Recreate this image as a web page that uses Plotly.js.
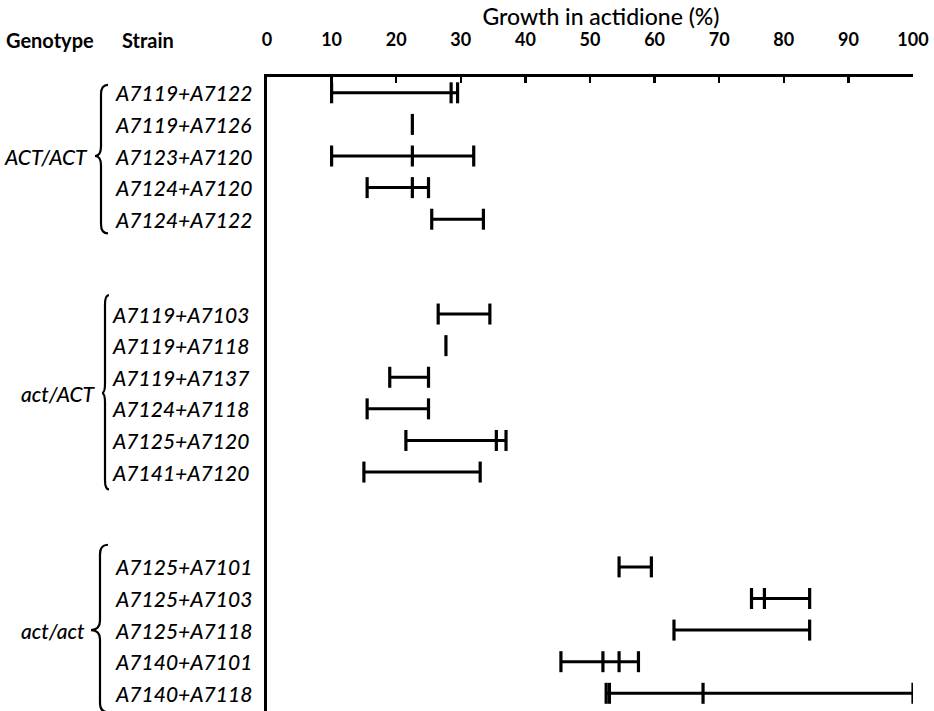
<!DOCTYPE html>
<html>
<head>
<meta charset="utf-8">
<script src="https://cdn.plot.ly/plotly-3.0.1.min.js"></script>
<style>html,body{margin:0;padding:0;background:#fff;}#chart{width:934px;height:711px;}</style>
</head>
<body>
<div id="chart"></div>
<script>
// ---- data ----
const genotypes = ['ACT/ACT', 'act/ACT', 'act/act'];
const groupSizes = [5, 6, 5];
const strains = [
  'A7119+A7122', 'A7119+A7126', 'A7123+A7120', 'A7124+A7120', 'A7124+A7122',
  'A7119+A7103', 'A7119+A7118', 'A7119+A7137', 'A7124+A7118', 'A7125+A7120', 'A7141+A7120',
  'A7125+A7101', 'A7125+A7103', 'A7125+A7118', 'A7140+A7101', 'A7140+A7118'
];
const readings = [
  [10, 28.5, 29.5], [22.5], [10, 22.5, 32], [15.5, 22.5, 25], [25.5, 33.5],
  [26.5, 34.5], [27.7], [19, 25], [15.5, 25], [21.5, 35.5, 37], [15, 33],
  [54.5, 59.5], [75, 77, 84], [63, 84], [45.5, 52, 54.5, 57.5], [52.5, 53, 67.5, 100]
];
const xTicks = [0, 10, 20, 30, 40, 50, 60, 70, 80, 90, 100];
const xTitle = 'Growth in actidione (%)';
const headers = ['Genotype', 'Strain'];

// ---- layout geometry ----
const W = 934, H = 711;
const M = {l: 267, r: 21, t: 77, b: 0};
const PW = W - M.l - M.r, PH = H - M.t - M.b;
const px = v => (v - M.l) / PW;           // pixel x -> paper x
const py = v => (H - M.b - v) / PH;       // pixel y -> paper y
const GAP = 2;
// per-group label/brace placement (pixels)
const grpStyle = [
  {labelRight: 90, tip: 95, spine: 101, arm: 108, text: 113, topPad: 0.25, botPad: 0.45},
  {labelRight: 98, tip: 102, spine: 105, arm: 109, text: 110, topPad: 0.6, botPad: 0.55},
  {labelRight: 87, tip: 91, spine: 100, arm: 108, text: 113, topPad: 0.7, botPad: 0.6}
];

// row positions from group structure
const pos = [];
const rowGroup = [];
const groupSpan = [];
let cur = 0;
groupSizes.forEach((n, g) => {
  const first = cur;
  for (let i = 0; i < n; i++) { pos.push(cur++); rowGroup.push(g); }
  groupSpan.push([first, cur - 1]);
  cur += GAP;
});

const FONT = 'Lato, "Open Sans", "DejaVu Sans", sans-serif';
const traces = [];
strains.forEach((s, i) => {
  const vals = readings[i];
  const lo = Math.min(...vals), hi = Math.max(...vals);
  if (hi > lo) {
    traces.push({
      type: 'scatter', mode: 'lines', x: [lo, hi], y: [pos[i], pos[i]],
      line: {color: '#000', width: 3}, hoverinfo: 'skip', showlegend: false
    });
  }
  traces.push({
    type: 'scatter', mode: 'markers', x: vals, y: vals.map(() => pos[i]),
    marker: {symbol: 'line-ns', size: 15, color: '#000', line: {color: '#000', width: 3.2}},
    name: s, showlegend: false
  });
});

const annotations = [];
strains.forEach((s, i) => {
  annotations.push({
    xref: 'paper', yref: 'y', x: px(grpStyle[rowGroup[i]].text), y: pos[i], xanchor: 'left', yanchor: 'middle',
    text: '<i>' + s + '</i>', showarrow: false,
    font: {family: FONT, size: 21, color: '#000', weight: 500}
  });
});
const shapes = [];
genotypes.forEach((gname, g) => {
  const st = grpStyle[g];
  const [a, b] = groupSpan[g];
  const mid = (a + b) / 2;
  annotations.push({
    xref: 'paper', yref: 'y', x: px(st.labelRight), y: mid, xanchor: 'right', yanchor: 'middle',
    text: '<i>' + gname + '</i>', showarrow: false,
    font: {family: FONT, size: 21, color: '#000', weight: 500}
  });
  const top = a - st.topPad, bot = b + st.botPad, r = 0.3;
  const xr = px(st.arm), xs = px(st.spine), xt = px(st.tip);
  const path = `M${xr},${top} Q${xs},${top} ${xs},${top + r} L${xs},${mid - r} ` +
    `Q${xs},${mid} ${xt},${mid} Q${xs},${mid} ${xs},${mid + r} L${xs},${bot - r} ` +
    `Q${xs},${bot} ${xr},${bot}`;
  shapes.push({type: 'path', xref: 'paper', yref: 'y', path: path,
    line: {color: '#000', width: 2.2}});
});
annotations.push({xref: 'paper', yref: 'paper', x: px(50), y: py(40), xanchor: 'center', yanchor: 'middle',
  text: '<b>' + headers[0] + '</b>', showarrow: false, font: {family: FONT, size: 20, color: '#000'}});
annotations.push({xref: 'paper', yref: 'paper', x: px(148), y: py(40), xanchor: 'center', yanchor: 'middle',
  text: '<b>' + headers[1] + '</b>', showarrow: false, font: {family: FONT, size: 20, color: '#000'}});

const layout = {
  width: W, height: H, margin: M,
  paper_bgcolor: '#fff', plot_bgcolor: '#fff',
  showlegend: false,
  title: {text: xTitle, font: {family: FONT, size: 23, color: '#000', weight: 500},
    xref: 'paper', x: px(601), xanchor: 'center', yref: 'container', y: 1 - 17 / H, yanchor: 'middle'},
  xaxis: {
    side: 'top', range: [0, 100], tickvals: xTicks, ticktext: xTicks.map(String),
    ticks: 'inside', ticklen: 6, tickwidth: 2.5, tickcolor: '#000',
    showline: true, linecolor: '#000', linewidth: 3, showgrid: false, zeroline: false,
    ticklabelstandoff: 21,
    tickfont: {family: FONT, size: 18, color: '#000', weight: 'bold'}
  },
  yaxis: {
    range: [pos[pos.length - 1] + 0.56, -0.5], showticklabels: false, ticks: '',
    showline: true, linecolor: '#000', linewidth: 3, showgrid: false, zeroline: false
  },
  annotations: annotations,
  shapes: shapes
};
Plotly.newPlot('chart', traces, layout, {displayModeBar: false, staticPlot: true});
</script>
</body>
</html>
